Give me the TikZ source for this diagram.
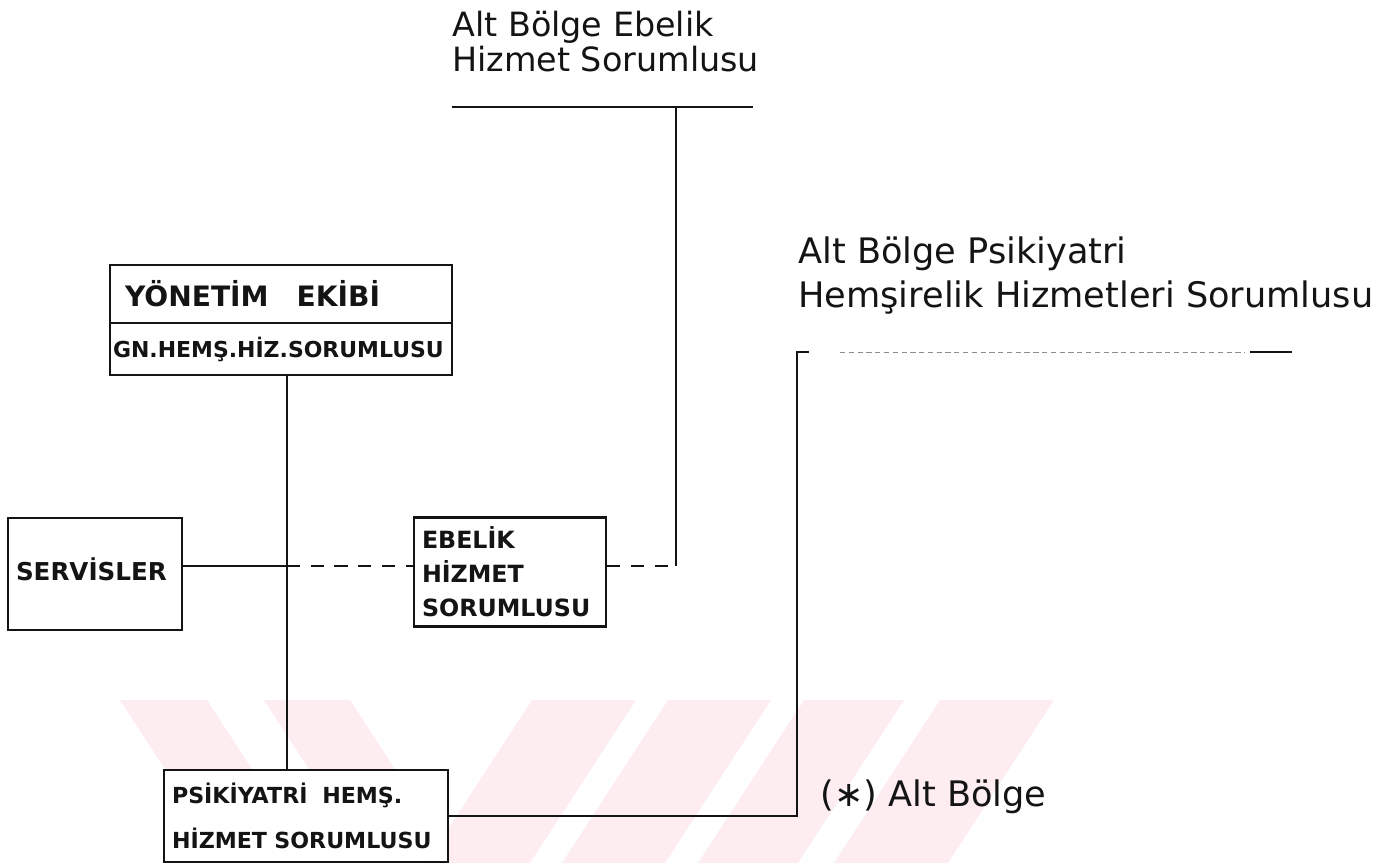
\documentclass[tikz,border=0pt]{standalone}
\usepackage{fontspec}
\setmainfont{DejaVu Sans}
\usetikzlibrary{positioning}
\definecolor{ink}{RGB}{20,20,20}
\definecolor{mark}{RGB}{253,236,240}
\definecolor{faint}{RGB}{140,140,140}
\tikzset{
  box/.style={draw=ink,fill=white,line width=1.3pt,inner ysep=0pt,align=left,text=ink,font=\bfseries\fontsize{13}{19}\selectfont},
  hand/.style={align=left,inner sep=0pt,text=ink},
  link/.style={draw=ink,line width=0.9pt},
  dlink/.style={link,dash pattern=on 7.5pt off 6pt},
  band/.style={fill=mark,draw=none}
}

\begin{document}
\begin{tikzpicture}[x=0.02cm,y=-0.02cm]
  \useasboundingbox (0,0) rectangle (1395,863);

  % watermark stripes
  \begin{scope}
    \clip (0,700) rectangle (1395,863);
    \fill[band] (120,700) -- (207,700) -- (313,863) -- (226,863) -- cycle;
    \fill[band] (264,700) -- (350,700) -- (456,863) -- (370,863) -- cycle;
    \fill[band] (532,700) -- (636,700) -- (530,863) -- (426,863) -- cycle;
    \fill[band] (668,700) -- (771,700) -- (665,863) -- (562,863) -- cycle;
    \fill[band] (804,700) -- (904,700) -- (798,863) -- (698,863) -- cycle;
    \fill[band] (940,700) -- (1054,700) -- (948,863) -- (834,863) -- cycle;
  \end{scope}

  % boxes
  \node[box,inner xsep=0.3cm,minimum width=6.84cm,minimum height=1.16cm,text width=6.24cm,font=\bfseries\fontsize{16}{19}\selectfont] (yon) at (281,294) {YÖNETİM\ \ \ EKİBİ};
  \node[box,inner xsep=0.06cm,minimum width=6.84cm,minimum height=1.04cm,text width=6.72cm,font=\bfseries\fontsize{12.5}{19}\selectfont] (gnh) at (281,349) {GN.HEMŞ.HİZ.SORUMLUSU};
  \node[box,inner xsep=0.16cm,minimum width=3.48cm,minimum height=2.24cm,text width=3.16cm,font=\bfseries\fontsize{14}{19}\selectfont] (srv) at (95,574) {\raisebox{6pt}{SERVİSLER}};
  \node[box,inner xsep=0.16cm,minimum width=3.84cm,minimum height=2.18cm,text width=3.52cm,font=\bfseries\fontsize{13.5}{19.3}\selectfont] (ebl) at (510,572) {EBELİK\\HİZMET\\SORUMLUSU};
  \node[box,inner xsep=0.16cm,minimum width=5.68cm,minimum height=1.84cm,text width=5.36cm,font=\bfseries\fontsize{12.6}{25.5}\selectfont] (psk) at (306,816) {PSİKİYATRİ\ \ HEMŞ.\\HİZMET SORUMLUSU};

  % handwritten titles
  \node[hand,anchor=north west,font=\fontsize{19}{20}\selectfont] (ebltop) at (452,11) {Alt Bölge Ebelik\\Hizmet Sorumlusu};
  \node[hand,anchor=north west,font=\fontsize{20}{25.5}\selectfont] (psktop) at (798,236) {Alt Bölge Psikiyatri\\Hemşirelik Hizmetleri Sorumlusu};
  \node[hand,anchor=base west,font=\fontsize{20}{20}\selectfont] (altb) at (820,806) {(∗) Alt Bölge};

  % junctions
  \coordinate (trunk) at (287,566);
  \coordinate (eblc) at (676,566);
  \coordinate (eblL) at (452,107);
  \coordinate (eblR) at (753,107);
  \coordinate (pskc) at (797,352);

  % connectors
  \draw[link] (gnh.south -| trunk) -- (psk.north -| trunk);
  \draw[link] (srv.east |- trunk) -- (trunk);
  \draw[dlink] (trunk) -- (ebl.west |- trunk);
  \draw[dlink] (ebl.east |- eblc) -- (eblc);
  \draw[link] (eblc) -- (eblc |- eblL);
  \draw[link] (eblL) -- (eblR);
  \draw[link] (psk.east) -- (psk.east -| pskc) -- (pskc) -- ++(12,0);
  \draw[faint,line width=0.5pt,dash pattern=on 3pt off 2pt] (840,352) -- (1245,352);
  \draw[link] (1250,352) -- (1292,352);
\end{tikzpicture}
\end{document}
